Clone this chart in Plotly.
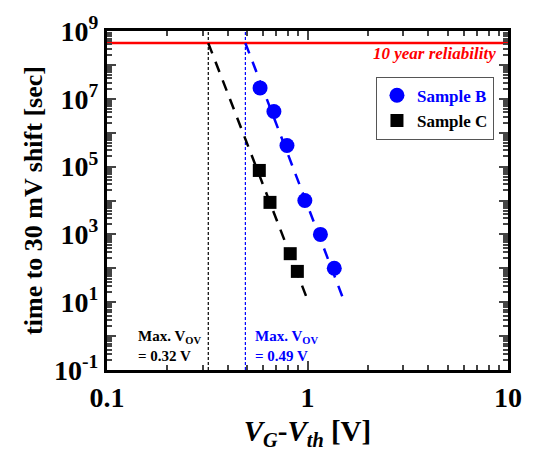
import math
import plotly.graph_objects as go

# Data
b_x = [0.58, 0.68, 0.79, 0.97, 1.16, 1.36]
b_y = [2.1e7, 4.2e6, 4.2e5, 1.0e4, 1.0e3, 1.0e2]
c_x = [0.575, 0.65, 0.82, 0.89]
c_y = [7.7e4, 8.8e3, 2.7e2, 81]
b_fit_x = [0.49, 1.53]
b_fit_y = [4.4e8, 10]
c_fit_x = [0.32, 0.99]
c_fit_y = [4.4e8, 13.8]
reliability = 4.4e8
vov_c = 0.32
vov_b = 0.49
y_ticks = [1e-1, 1e0, 1e1, 1e2, 1e3, 1e4, 1e5, 1e6, 1e7, 1e8, 1e9]
y_text = ["<b>10<sup>-1</sup></b>", "", "<b>10<sup>1</sup></b>", "", "<b>10<sup>3</sup></b>", "",
          "<b>10<sup>5</sup></b>", "", "<b>10<sup>7</sup></b>", "", "<b>10<sup>9</sup></b>"]
x_ticks = [0.1, 1, 10]
x_text = ["<b>0.1</b>", "<b>1</b>", "<b>10</b>"]

FONT = "Liberation Serif"
BLUE = "#0000ff"

fig = go.Figure()
# vertical Max V_OV lines
fig.add_trace(go.Scatter(x=[vov_c, vov_c], y=[1e-1, 1e9], mode="lines",
                         line=dict(color="black", width=1.2, dash="3px,2px"), showlegend=False))
fig.add_trace(go.Scatter(x=[vov_b, vov_b], y=[1e-1, 1e9], mode="lines",
                         line=dict(color=BLUE, width=1.2, dash="3px,2px"), showlegend=False))
# reliability line
fig.add_trace(go.Scatter(x=[0.1, 10], y=[reliability, reliability], mode="lines",
                         line=dict(color="red", width=2.5), showlegend=False))
# fits
fig.add_trace(go.Scatter(x=c_fit_x, y=c_fit_y, mode="lines",
                         line=dict(color="black", width=2.5, dash="11px,9px"), showlegend=False))
fig.add_trace(go.Scatter(x=b_fit_x, y=b_fit_y, mode="lines",
                         line=dict(color=BLUE, width=2.5, dash="11px,9px"), showlegend=False))
# data
fig.add_trace(go.Scatter(x=b_x, y=b_y, mode="markers", name="<span style='color:#0000ff'><b>Sample B</b></span>",
                         marker=dict(symbol="circle", size=15, color=BLUE)))
fig.add_trace(go.Scatter(x=c_x, y=c_y, mode="markers", name="<b>Sample C</b>",
                         marker=dict(symbol="square", size=13, color="black")))

fig.add_annotation(x=1, xref="paper", y=0.934, yref="paper", xanchor="right", yanchor="middle",
                   text="<b><i>10 year reliability</i></b>", showarrow=False,
                   font=dict(family=FONT, size=17, color="red"), xshift=-10)
fig.add_annotation(x=math.log10(vov_c), xref="x", y=0.07, yref="paper", xanchor="right", yanchor="middle",
                   text="<b>Max. V<sub>OV</sub><br>= 0.32 V</b>", showarrow=False, align="left",
                   font=dict(family=FONT, size=15, color="black"), xshift=-5)
fig.add_annotation(x=math.log10(vov_b), xref="x", y=0.07, yref="paper", xanchor="left", yanchor="middle",
                   text="<b>Max. V<sub>OV</sub><br>= 0.49 V</b>", showarrow=False, align="left",
                   font=dict(family=FONT, size=15, color=BLUE), xshift=8)

fig.update_layout(
    width=540, height=462,
    margin=dict(l=107, r=32, t=20, b=92),
    paper_bgcolor="white", plot_bgcolor="white",
    font=dict(family=FONT, color="black"),
    showlegend=True,
    legend=dict(x=0.965, y=0.865, xanchor="right", yanchor="top",
                bordercolor="#555", borderwidth=1, bgcolor="white",
                font=dict(family=FONT, size=17, color="black"),
                itemwidth=30, tracegroupgap=0),
    xaxis=dict(type="log", range=[-1, 1], tickvals=x_ticks, ticktext=x_text,
               ticks="inside", ticklen=9, tickwidth=2, mirror="allticks",
               showline=True, linewidth=3, linecolor="black", showgrid=False, zeroline=False,
               tickfont=dict(family=FONT, size=28, color="black"),
               minor=dict(ticks="inside", ticklen=5, tickwidth=1.5, dtick="D1", showgrid=False),
               title=dict(text="<b><i>V<sub>G</sub></i>-<i>V<sub>th</sub></i> [V]</b>",
                          font=dict(family=FONT, size=29), standoff=10)),
    yaxis=dict(type="log", range=[-1, 9], tickvals=y_ticks, ticktext=y_text,
               ticks="inside", ticklen=9, tickwidth=2, mirror="allticks",
               showline=True, linewidth=3, linecolor="black", showgrid=False, zeroline=False,
               tickfont=dict(family=FONT, size=28, color="black"),
               minor=dict(ticks="inside", ticklen=5, tickwidth=1.5, dtick="D1", showgrid=False),
               title=dict(text="<b>time to 30 mV shift [sec]</b>",
                          font=dict(family=FONT, size=26), standoff=4)),
)
fig.write_html("out.html")
